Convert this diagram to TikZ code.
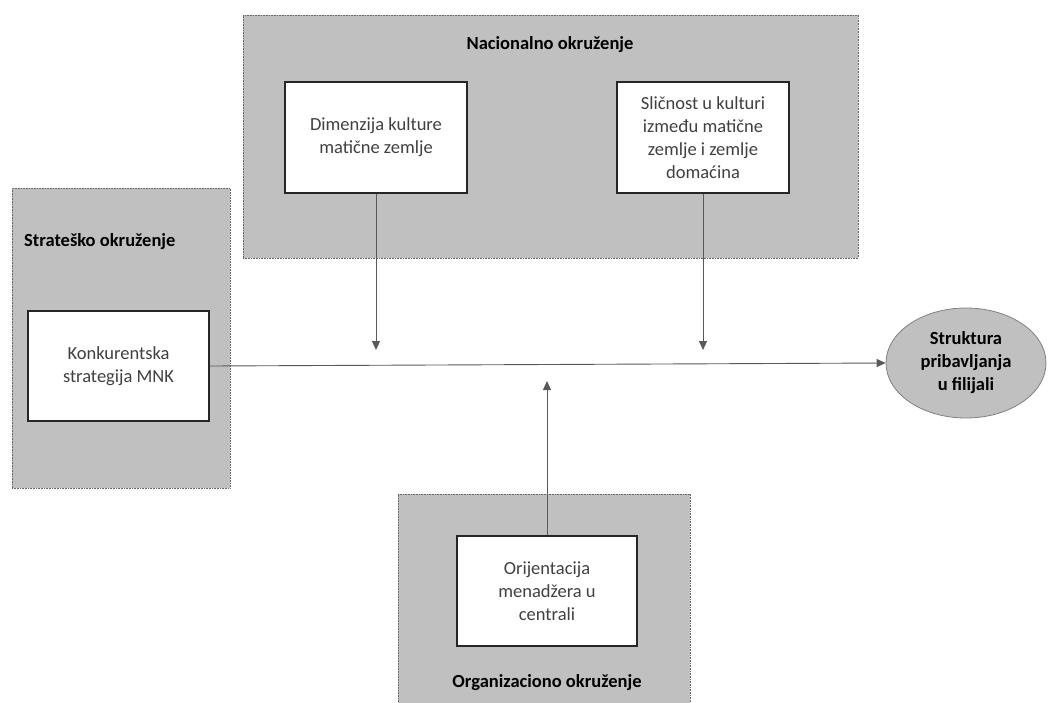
\documentclass[tikz,border=0pt]{standalone}
\usepackage{fontspec}
\setmainfont{Carlito}
\usetikzlibrary{arrows.meta,shapes.geometric}
\definecolor{envgray}{RGB}{192,192,192}
\definecolor{txtgray}{RGB}{64,64,64}
\begin{document}
\begin{tikzpicture}[x=1pt,y=-1pt,
  envbox/.style={draw=black!60, densely dotted, line width=0.6pt, fill=envgray, inner sep=0pt},
  whitebox/.style={draw=black!85, line width=1.3pt, fill=white, align=center, text=txtgray,
    font=\fontsize{18.5}{23}\selectfont, inner sep=0pt},
  envtitle/.style={font=\fontsize{18.5}{23}\selectfont\bfseries, text=black, inner sep=0pt},
  conn/.style={draw=black!65, line width=0.9pt},
  arr/.style={conn, -{Triangle[width=8pt,length=9pt]}}]
\useasboundingbox (0,0) rectangle (1055,702);
% environment boxes
\node[envbox, minimum width=615pt, minimum height=243pt] (nac) at (550.5,136.5) {};
\node[envbox, minimum width=218pt, minimum height=300pt] (strat) at (121,338) {};
\node[envbox, minimum width=292pt, minimum height=220pt] (org) at (544,604) {};
% titles
\node[envtitle] (tnac) at (550,45) {Nacionalno okruženje};
\node[envtitle, anchor=west] (tstrat) at (24,242) {Strateško okruženje};
\node[envtitle] (torg) at (547,683) {Organizaciono okruženje};
% inner boxes
\node[whitebox, minimum width=182pt, minimum height=111pt] (dim) at (376,137.5) {Dimenzija kulture\\matične zemlje};
\node[whitebox, minimum width=172pt, minimum height=111pt] (sli) at (703,137.5) {Sličnost u kulturi\\između matične\\zemlje i zemlje\\domaćina};
\node[whitebox, minimum width=181pt, minimum height=110pt] (konk) at (118.5,366) {Konkurentska\\strategija MNK};
\node[whitebox, minimum width=180pt, minimum height=110pt] (ori) at (547,591) {Orijentacija\\menadžera u\\centrali};
% outcome
\node[ellipse, draw=black!50, line width=0.8pt, fill=envgray, minimum width=160pt, minimum height=110pt,
  align=center, font=\fontsize{18.5}{23}\selectfont\bfseries, inner sep=0pt] (ell) at (966,363)
  {Struktura\\pribavljanja\\u filijali};
% arrow end points
\coordinate (e1) at (376,350);
\coordinate (e2) at (703,350);
\coordinate (e3) at (547,381);
% connectors
\draw[arr] (konk.east) -- (ell.west);
\draw[arr] (dim.south) -- (e1);
\draw[arr] (sli.south) -- (e2);
\draw[arr] (ori.north) -- (e3);
\end{tikzpicture}
\end{document}
